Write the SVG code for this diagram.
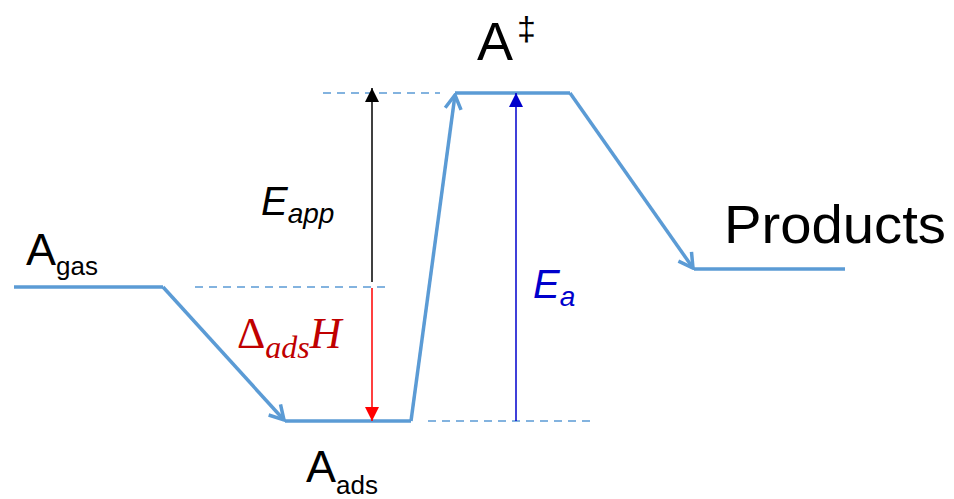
<svg xmlns="http://www.w3.org/2000/svg" width="954" height="499" viewBox="0 0 954 499">
<defs>
<style>
.lvl{fill:none;stroke:#5B9BD5;stroke-width:3.5;stroke-linejoin:miter}
.dash{fill:none;stroke:#5B9BD5;stroke-width:1.5;stroke-dasharray:8,6}
.lbl{font-family:"Liberation Sans",Arial,sans-serif;fill:#000}
.it{font-family:"Liberation Sans",Arial,sans-serif;font-style:italic}
.math{font-family:"Liberation Serif","DejaVu Serif",serif;font-style:italic;fill:#C00000}
</style>
<marker id="open" viewBox="0 0 20 20" refX="18" refY="10" markerWidth="20" markerHeight="20" markerUnits="userSpaceOnUse" orient="auto">
<path d="M4,2 L18,10 L4,18" fill="none" stroke="#5B9BD5" stroke-width="3.5"/>
</marker>
<marker id="hk" viewBox="0 0 10 10" refX="10" refY="5" markerWidth="14" markerHeight="14" markerUnits="userSpaceOnUse" orient="auto">
<path d="M0,0 L10,5 L0,10 Z" fill="#000"/>
</marker>
<marker id="hr" viewBox="0 0 10 10" refX="10" refY="5" markerWidth="14" markerHeight="14" markerUnits="userSpaceOnUse" orient="auto">
<path d="M0,0 L10,5 L0,10 Z" fill="#FF0000"/>
</marker>
<marker id="hb" viewBox="0 0 10 10" refX="10" refY="5" markerWidth="14" markerHeight="14" markerUnits="userSpaceOnUse" orient="auto">
<path d="M0,0 L10,5 L0,10 Z" fill="#0000CC"/>
</marker>
</defs>
<rect width="954" height="499" fill="#fff"/>
<g id="guides">
<line class="dash" x1="323" y1="93" x2="440" y2="93"/>
<line class="dash" x1="195" y1="287" x2="386" y2="287"/>
<line class="dash" x1="428" y1="421" x2="592" y2="421"/>
</g>
<g id="gas">
<line class="lvl" x1="14" y1="287" x2="163" y2="287"/>
<text class="lbl" x="26" y="265" font-size="45">A<tspan font-size="26" dy="10">gas</tspan></text>
</g>
<g id="ads">
<line class="lvl" x1="285" y1="421" x2="411" y2="421"/>
<text class="lbl" x="306" y="482" font-size="45">A<tspan font-size="26" dy="12">ads</tspan></text>
</g>
<g id="ts">
<line class="lvl" x1="455" y1="93" x2="570" y2="93"/>
<text class="lbl" x="477" y="60" font-size="54">A<tspan font-size="34" dx="4" dy="-20">‡</tspan></text>
</g>
<g id="products">
<line class="lvl" x1="694" y1="269" x2="845" y2="269"/>
<text class="lbl" x="724" y="243" font-size="53" textLength="222" lengthAdjust="spacingAndGlyphs">Products</text>
</g>
<g id="connectors">
<line class="lvl" x1="163" y1="287" x2="284" y2="420" marker-end="url(#open)"/>
<line class="lvl" x1="411" y1="421" x2="455" y2="95" marker-end="url(#open)"/>
<line class="lvl" x1="570" y1="93" x2="693" y2="268" marker-end="url(#open)"/>
<line x1="372" y1="282" x2="372" y2="88" stroke="#000" stroke-width="1.5" marker-end="url(#hk)"/>
<line x1="372" y1="288" x2="372" y2="421" stroke="#FF0000" stroke-width="1.5" marker-end="url(#hr)"/>
<line x1="516" y1="421" x2="516" y2="93" stroke="#0000CC" stroke-width="1.5" marker-end="url(#hb)"/>
</g>
<g id="energies">
<text class="it" x="261" y="215" font-size="40" fill="#000">E<tspan font-size="28" dy="8">app</tspan></text>
<text class="it" x="533" y="298" font-size="40" fill="#0000CC">E<tspan font-size="28" dy="8">a</tspan></text>
<text class="math" x="237" y="348" font-size="44"><tspan font-style="normal">Δ</tspan><tspan font-size="32" dy="10">ads</tspan><tspan dy="-10">H</tspan></text>
</g>
</svg>
